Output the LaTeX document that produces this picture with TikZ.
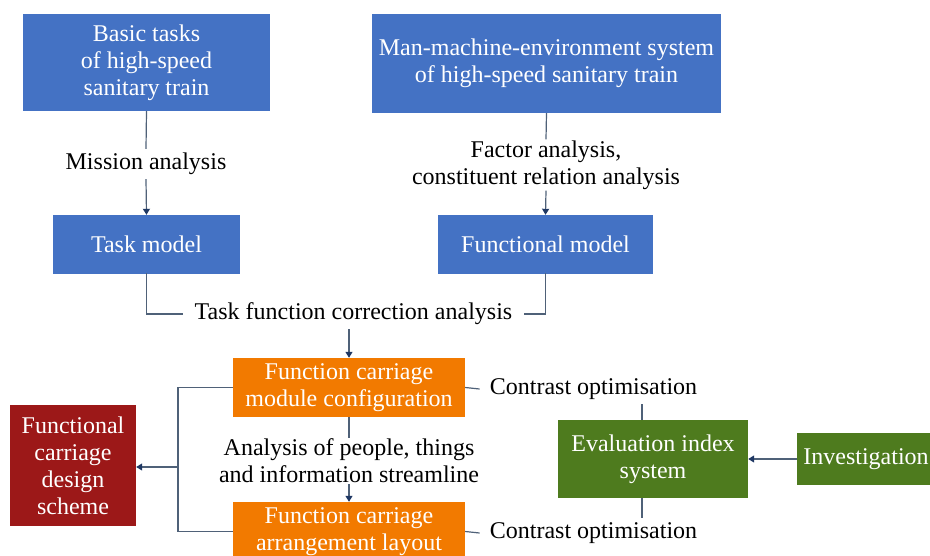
\documentclass[tikz,border=0pt]{standalone}
\usepackage{fontspec}
\setmainfont{Liberation Serif}
\newfontfamily\tnr{Liberation Serif}
\usetikzlibrary{arrows.meta}
\definecolor{cblue}{HTML}{4472C4}
\definecolor{corange}{HTML}{F27A00}
\definecolor{cgreen}{HTML}{4E7B1E}
\definecolor{cred}{HTML}{9C1818}
\definecolor{cline}{HTML}{4F6178}
\definecolor{ctip}{HTML}{1F3864}
\begin{document}
\begin{tikzpicture}[x=1pt,y=-1pt,
  box/.style={rectangle, inner sep=0pt, text=white, align=center, font=\tnr\fontsize{24}{27}\selectfont},
  bluebox/.style={box, fill=cblue},
  orangebox/.style={box, fill=corange},
  greenbox/.style={box, fill=cgreen},
  redbox/.style={box, fill=cred},
  lbl/.style={inner sep=4pt, align=center, fill=white, font=\tnr\fontsize{24}{27}\selectfont},
  conn/.style={draw=cline, line width=1.2pt},
  arr/.style={conn, -{Triangle[width=7pt,length=6pt,color=ctip]}}
]
\useasboundingbox (0,0) rectangle (930,556);
\begin{scope}
\clip (0,0) rectangle (930,556);
\node[bluebox, minimum width=247, minimum height=97] (basic) at (146.5,62.5) {Basic tasks\\of high-speed\\sanitary train};
\node[bluebox, minimum width=349, minimum height=99] (mme) at (546.5,63.5) {Man-machine-environment system\\of high-speed sanitary train};
\node[bluebox, minimum width=187, minimum height=59] (task) at (146.5,244.5) {Task model};
\node[bluebox, minimum width=215, minimum height=59] (func) at (545.5,244.5) {Functional model};
\node[orangebox, minimum width=232, minimum height=59] (o1) at (349,387.5) {Function carriage\\module configuration};
\node[orangebox, minimum width=232, minimum height=59] (o2) at (349,531.5) {Function carriage\\arrangement layout};
\node[redbox, minimum width=126, minimum height=121] (red) at (73,465.5) {Functional\\carriage\\design\\scheme};
\node[greenbox, minimum width=190, minimum height=78] (eval) at (653,459) {Evaluation index\\system};
\node[greenbox, minimum width=138, minimum height=52] (inv) at (866,459) {Investigation};

\node[lbl] (mis) at (146,164) {Mission analysis};
\node[lbl] (fac) at (546,165) {Factor analysis,\\constituent relation analysis};
\node[lbl, inner xsep=12pt] (tfc) at (353.5,314) {Task function correction analysis};
\node[lbl] (ana) at (349,461) {Analysis of people, things\\and information streamline};
\node[lbl, inner xsep=10pt] (c1) at (593.5,389) {Contrast optimisation};
\node[lbl, inner xsep=10pt] (c2) at (593.5,533) {Contrast optimisation};
\end{scope}

\coordinate (j) at (178,467);
\draw[conn] (basic.south) -- (mis.north);
\draw[arr] (mis.south) -- (task.north);
\draw[conn] (mme.south) -- ([yshift=-3]fac.north);
\draw[arr] ([yshift=3]fac.south) -- (func.north);
\draw[conn] ([yshift=1]task.south) |- (tfc.west);
\draw[conn] ([yshift=1]func.south) |- (tfc.east);
\draw[arr] (tfc.south -| o1.north) -- (o1.north);
\draw[conn] (o1.south) -- ([yshift=-3]ana.north);
\draw[arr] ([yshift=3]ana.south) -- (o2.north);
\draw[conn] (o1.west) -| (j) |- (o2.west);
\draw[arr] (j) -- (j -| red.east);
\draw[conn] (o1.east) -- (c1.west);
\draw[conn] (o2.east) -- (c2.west);
\coordinate (e1) at ([xshift=-11]eval.north);
\coordinate (e2) at ([xshift=-11]eval.south);
\draw[conn] (e1) -- (e1 |- c1.south);
\draw[conn] (e2) -- (e2 |- c2.north);
\draw[arr] (inv.west) -- (eval.east);
\end{tikzpicture}
\end{document}
